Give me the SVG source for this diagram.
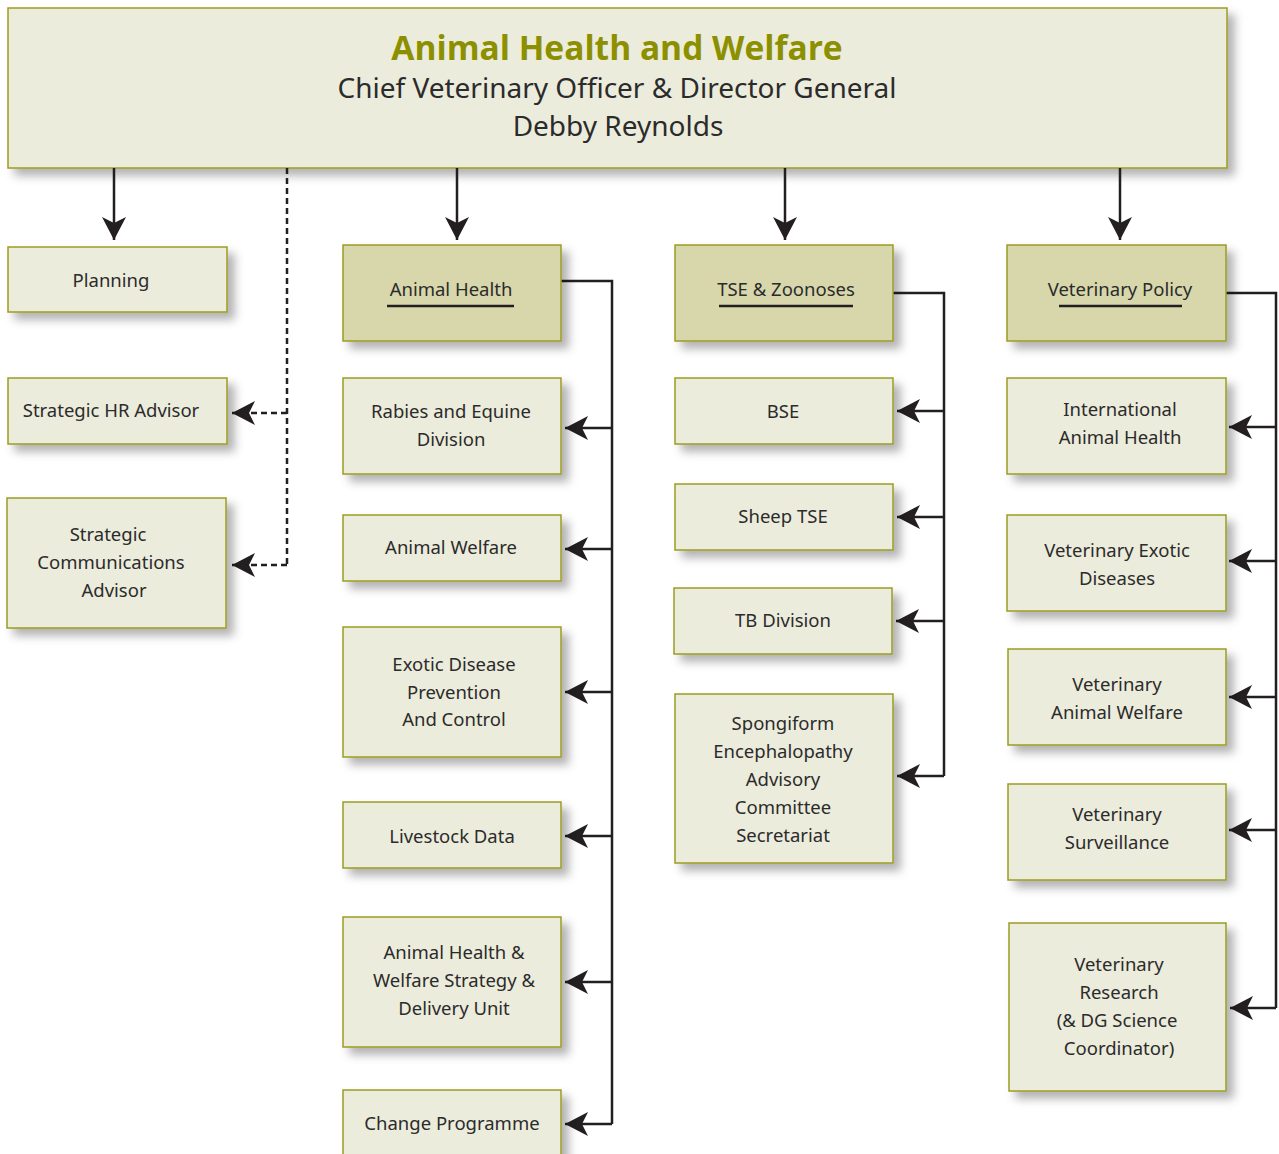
<svg xmlns="http://www.w3.org/2000/svg" width="1279" height="1154" viewBox="0 0 1279 1154">
<style>
.box{fill:#ECECDC;stroke:#9C9C22;stroke-width:1.5;filter:url(#sh)}
.hdr{fill:#D7D7AB;stroke:#9C9C22;stroke-width:1.5;filter:url(#sh)}
.t{font-family:"Noto Sans","Open Sans",sans-serif;font-size:18.5px;fill:#2B2B2B;text-anchor:middle}
.ul{stroke:#231F20;stroke-width:2.5}
.c{fill:none;stroke:#231F20;stroke-width:2.5}
.d{fill:none;stroke:#231F20;stroke-width:2.5;stroke-dasharray:6,4}
</style>
<defs>
<filter id="sh" x="-20%" y="-20%" width="150%" height="150%">
<feDropShadow dx="7" dy="7" stdDeviation="5" flood-color="#000" flood-opacity="0.3"/>
</filter>
<marker id="ah" markerUnits="userSpaceOnUse" markerWidth="26" markerHeight="26" refX="23" refY="13" orient="auto" viewBox="0 0 26 26">
<path d="M0,1 L23,13 L0,25 L6,13 Z" fill="#231F20"/>
</marker>
</defs>
<rect width="1279" height="1154" fill="#fff"/>

<g id="top">
<rect class="box" x="8" y="8" width="1219" height="160"/>
<text x="617" y="60" font-family="'Open Sans','Noto Sans',sans-serif" font-size="33.5" font-weight="bold" fill="#8C9000" text-anchor="middle">Animal Health and Welfare</text>
<text class="t" x="617" y="98" style="font-size:28px">Chief Veterinary Officer &amp; Director General</text>
<text class="t" x="618" y="136" style="font-size:28px">Debby Reynolds</text>
</g>

<g id="connectors">
<line class="c" x1="114" y1="168" x2="114" y2="240" marker-end="url(#ah)"/>
<line class="c" x1="457" y1="168" x2="457" y2="240" marker-end="url(#ah)"/>
<line class="c" x1="785" y1="168" x2="785" y2="240" marker-end="url(#ah)"/>
<line class="c" x1="1120" y1="168" x2="1120" y2="240" marker-end="url(#ah)"/>
<polyline class="d" points="287,168 287,565"/>
<line class="d" x1="287" y1="413" x2="232" y2="413" marker-end="url(#ah)"/>
<line class="d" x1="287" y1="565" x2="232" y2="565" marker-end="url(#ah)"/>

<polyline class="c" points="561,281 612,281 612,1124"/>
<line class="c" x1="612" y1="428" x2="565" y2="428" marker-end="url(#ah)"/>
<line class="c" x1="612" y1="549" x2="565" y2="549" marker-end="url(#ah)"/>
<line class="c" x1="612" y1="692" x2="565" y2="692" marker-end="url(#ah)"/>
<line class="c" x1="612" y1="836" x2="565" y2="836" marker-end="url(#ah)"/>
<line class="c" x1="612" y1="982" x2="565" y2="982" marker-end="url(#ah)"/>
<line class="c" x1="612" y1="1124" x2="565" y2="1124" marker-end="url(#ah)"/>

<polyline class="c" points="893,293 944,293 944,776"/>
<line class="c" x1="944" y1="411" x2="897" y2="411" marker-end="url(#ah)"/>
<line class="c" x1="944" y1="517" x2="897" y2="517" marker-end="url(#ah)"/>
<line class="c" x1="944" y1="621" x2="896" y2="621" marker-end="url(#ah)"/>
<line class="c" x1="944" y1="776" x2="897" y2="776" marker-end="url(#ah)"/>

<polyline class="c" points="1226,293 1276,293 1276,1008"/>
<line class="c" x1="1276" y1="427" x2="1229" y2="427" marker-end="url(#ah)"/>
<line class="c" x1="1276" y1="561" x2="1229" y2="561" marker-end="url(#ah)"/>
<line class="c" x1="1276" y1="697" x2="1229" y2="697" marker-end="url(#ah)"/>
<line class="c" x1="1276" y1="830" x2="1229" y2="830" marker-end="url(#ah)"/>
<line class="c" x1="1276" y1="1008" x2="1230" y2="1008" marker-end="url(#ah)"/>
</g>

<g id="planning"><rect class="box" x="8" y="247" width="219" height="65"/><text class="t" x="111" y="287">Planning</text></g>
<g id="hr"><rect class="box" x="8" y="378" width="219" height="66"/><text class="t" x="111" y="417">Strategic HR Advisor</text></g>
<g id="comms"><rect class="box" x="7" y="498" width="219" height="130"/><text class="t" x="110"><tspan x="108" y="541">Strategic</tspan><tspan x="111" y="569">Communications</tspan><tspan x="114" y="597">Advisor</tspan></text></g>

<g id="ah-hdr"><rect class="hdr" x="343" y="245" width="218" height="96"/><text class="t" x="451" y="296">Animal Health</text><line class="ul" x1="387" y1="306" x2="514" y2="306"/></g>
<g id="rabies"><rect class="box" x="343" y="378" width="218" height="96"/><text class="t"><tspan x="451" y="418">Rabies and Equine</tspan><tspan x="451" y="446">Division</tspan></text></g>
<g id="welfare"><rect class="box" x="343" y="515" width="218" height="66"/><text class="t" x="451" y="554">Animal Welfare</text></g>
<g id="exotic"><rect class="box" x="343" y="627" width="218" height="130"/><text class="t"><tspan x="454" y="671">Exotic Disease</tspan><tspan x="454" y="699">Prevention</tspan><tspan x="454" y="726">And Control</tspan></text></g>
<g id="livestock"><rect class="box" x="343" y="802" width="218" height="66"/><text class="t" x="452" y="843">Livestock Data</text></g>
<g id="strategy"><rect class="box" x="343" y="917" width="218" height="130"/><text class="t"><tspan x="454" y="959">Animal Health &amp;</tspan><tspan x="454" y="987">Welfare Strategy &amp;</tspan><tspan x="454" y="1015">Delivery Unit</tspan></text></g>
<g id="change"><rect class="box" x="343" y="1090" width="218" height="80"/><text class="t" x="452" y="1130">Change Programme</text></g>

<g id="tse-hdr"><rect class="hdr" x="675" y="245" width="218" height="96"/><text class="t" x="786" y="296">TSE &amp; Zoonoses</text><line class="ul" x1="719" y1="306" x2="853" y2="306"/></g>
<g id="bse"><rect class="box" x="675" y="378" width="218" height="66"/><text class="t" x="783" y="418">BSE</text></g>
<g id="sheep"><rect class="box" x="675" y="484" width="218" height="66"/><text class="t" x="783" y="523">Sheep TSE</text></g>
<g id="tb"><rect class="box" x="674" y="588" width="218" height="66"/><text class="t" x="783" y="627">TB Division</text></g>
<g id="seac"><rect class="box" x="675" y="694" width="218" height="169"/><text class="t"><tspan x="783" y="730">Spongiform</tspan><tspan x="783" y="758">Encephalopathy</tspan><tspan x="783" y="786">Advisory</tspan><tspan x="783" y="814">Committee</tspan><tspan x="783" y="842">Secretariat</tspan></text></g>

<g id="vp-hdr"><rect class="hdr" x="1007" y="245" width="219" height="96"/><text class="t" x="1120" y="296">Veterinary Policy</text><line class="ul" x1="1059" y1="306" x2="1182" y2="306"/></g>
<g id="intl"><rect class="box" x="1007" y="378" width="219" height="96"/><text class="t"><tspan x="1120" y="416">International</tspan><tspan x="1120" y="444">Animal Health</tspan></text></g>
<g id="vexotic"><rect class="box" x="1007" y="515" width="219" height="96"/><text class="t"><tspan x="1117" y="557">Veterinary Exotic</tspan><tspan x="1117" y="585">Diseases</tspan></text></g>
<g id="vwelfare"><rect class="box" x="1008" y="649" width="218" height="96"/><text class="t"><tspan x="1117" y="691">Veterinary</tspan><tspan x="1117" y="719">Animal Welfare</tspan></text></g>
<g id="vsurv"><rect class="box" x="1008" y="784" width="218" height="96"/><text class="t"><tspan x="1117" y="821">Veterinary</tspan><tspan x="1117" y="849">Surveillance</tspan></text></g>
<g id="vres"><rect class="box" x="1009" y="923" width="217" height="168"/><text class="t"><tspan x="1119" y="971">Veterinary</tspan><tspan x="1119" y="999">Research</tspan><tspan x="1117" y="1027">(&amp; DG Science</tspan><tspan x="1119" y="1055">Coordinator)</tspan></text></g>
</svg>
